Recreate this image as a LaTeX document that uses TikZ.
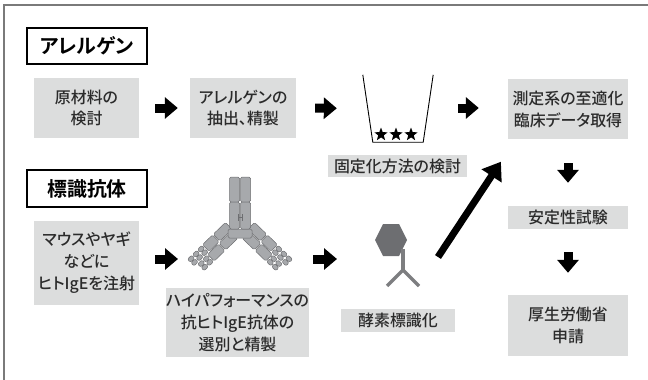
\documentclass[tikz,border=0pt]{standalone}
\usepackage{fontspec}
\newfontfamily\jpfont[RawFeature=+palt,UprightFont=* Medium]{Noto Sans CJK JP}
\newfontfamily\jpbold[RawFeature=+palt]{Noto Sans CJK JP Bold}
\usetikzlibrary{arrows.meta,shapes.geometric}
\definecolor{boxgray}{HTML}{DCDDDD}
\definecolor{inkgray}{HTML}{2B2B2B}
\definecolor{framegray}{HTML}{7A7A7A}
\definecolor{chaingray}{HTML}{A7A9AC}
\definecolor{chainedge}{HTML}{6D6E71}
\definecolor{enzgray}{HTML}{6D6E71}
\definecolor{ygray}{HTML}{7D7E80}
\begin{document}
\begin{tikzpicture}[line join=miter,
  stepbox/.style={fill=boxgray,text=inkgray,align=center,inner sep=0pt,
    font=\jpfont\fontsize{16}{22}\selectfont},
  titlebox/.style={draw=black,line width=1.2bp,fill=white,inner sep=0pt,
    minimum width=120bp,font=\jpbold\fontsize{20}{24}\selectfont},
  flow/.style={draw=black,line width=9bp,-{Triangle[length=13bp,width=21bp]}},
  bigflow/.style={draw=black,line width=7bp,-{Triangle[length=17bp,width=23bp]}},
  chain/.style={fill=chaingray,draw=chainedge,line width=0.5bp,rounded corners=1.5bp},
  bead/.style={fill=chaingray,draw=chainedge,line width=0.5bp,rounded corners=2bp},
]
\useasboundingbox (0bp,0bp) rectangle (648bp,-380bp);
%% frame
\draw [framegray,line width=1.5bp] (650bp,-5bp) -- (4bp,-5bp) -- (4bp,-382bp);
%% headings
\node (allergen) at (87.0bp,-46.0bp) [titlebox,minimum height=36bp] {アレルゲン};
\node (labelled) at (87.0bp,-188.5bp) [titlebox,minimum height=37bp] {標識抗体};
%% allergen row
\node (raw) at (86.5bp,-108.0bp) [stepbox,minimum width=105bp,minimum height=60bp] {原材料の\\検討};
\node (extract) at (243.0bp,-108.0bp) [stepbox,minimum width=106bp,minimum height=60bp] {アレルゲンの\\抽出、精製};
\node (cup) at (398.0bp,-108.5bp) [minimum width=70bp,minimum height=67bp,inner sep=0pt] {};
\draw [black,line width=0.9bp] (cup.north west) -- ([xshift=10bp]cup.south west)
  -- ([xshift=-10bp]cup.south east) -- (cup.north east);
\foreach \sx in {381,396,411}
  \node (star\sx) at (\sx bp,-134.5bp) [star,star points=5,star point ratio=2.4,fill=black,
    inner sep=0pt,minimum size=14bp] {};
\node (fixing) at (397.5bp,-166.0bp) [stepbox,minimum width=139bp,minimum height=22bp] {固定化方法の検討};
\node (optimize) at (568.0bp,-109.0bp) [stepbox,minimum width=120bp,minimum height=60bp] {測定系の至適化\\臨床データ取得};
\node (stability) at (568.0bp,-217.5bp) [stepbox,minimum width=120bp,minimum height=23bp] {安定性試験};
\node (apply) at (568.0bp,-325.5bp) [stepbox,minimum width=120bp,minimum height=61bp] {厚生労働省\\申請};
%% antibody row
\node (mouse) at (86.5bp,-263.0bp) [stepbox,minimum width=105bp,minimum height=84bp] {マウスやヤギ\\などに\\ヒトIgEを注射};
\node (select) at (237.5bp,-322.5bp) [stepbox,minimum width=143bp,minimum height=69bp] {ハイパフォーマンスの\\抗ヒトIgE抗体の\\選別と精製};
\node (labeling) at (398.0bp,-320.5bp) [stepbox,minimum width=114bp,minimum height=23bp] {酵素標識化};
\coordinate (antibody) at (240.0bp,-259.0bp);
\coordinate (enzyme) at (397.0bp,-259.0bp);
% antibody: arms
\foreach \s in {1,-1} {
\begin{scope}[shift={(240bp,-231bp)},xscale=\s,shift={(9bp,0bp)},rotate=-44,x=1bp,y=-1bp]
  \draw [chain] (0,0.5) rectangle (17,10);
  \draw [chain] (18,0.5) rectangle (33,10);
  \draw [chain] (-2,-10) rectangle (15,-0.5);
  \draw [chain] (16,-10) rectangle (30,-0.5);
  \foreach \a in {34,41} {
    \draw [bead] (\a,0.5) rectangle ++(6,4.5);
    \draw [bead] (\a,5.5) rectangle ++(6,4.5);
  }
  \foreach \a in {31,38,45} {
    \draw [bead] (\a,-10) rectangle ++(6,4.5);
    \draw [bead] (\a,-5) rectangle ++(6,4.5);
  }
\end{scope}
}
% antibody: stem and hinge
\begin{scope}[x=1bp,y=-1bp]
\draw [chain] (228,229) rectangle (252,238);
\foreach \cx in {229.5,240.5} {
  \draw [chain] (\cx,177) rectangle ++(10,25);
  \draw [chain] (\cx,202) rectangle ++(10,27);
}
\draw [chainedge,line width=0.5bp] (238,214) -- (238,221) (242,214) -- (242,221) (238,217.5) -- (242,217.5);
\end{scope}
% enzyme with its antibody
\begin{scope}[x=1bp,y=-1bp]
\fill [enzgray] (375,240) -- (383,224) -- (399,224) -- (407,240) -- (399,256) -- (383,256) -- cycle;
\draw [ygray,line width=3.5bp] (403,249) -- (403,270);
\draw [ygray,line width=3.5bp] (387,286) -- (403,270) -- (419,286);
\end{scope}
%% flow arrows
\draw [flow,shorten <=16bp,shorten >=12bp] (raw) -- (extract);
\draw [flow,shorten <=19bp,shorten >=26bp] (extract.east) -- (cup.west);
\draw [flow,shorten <=25bp,shorten >=29bp] (cup.east |- extract.east) -- (optimize.west |- extract.east);
\draw [flow,shorten <=24bp,shorten >=23bp] (optimize) -- (stability);
\draw [flow,shorten <=23bp,shorten >=22bp] (stability) -- (apply);
\draw [flow,shorten <=16bp,shorten >=62bp] ([yshift=4bp]mouse.east) -- (antibody);
\draw [flow,shorten <=73bp,shorten >=60bp] (antibody) -- (enzyme);
\draw [bigflow,shorten >=27bp] ([xshift=41bp,yshift=2bp]enzyme) -- ([xshift=8bp]optimize.south west);
%
\end{tikzpicture}
\end{document}
